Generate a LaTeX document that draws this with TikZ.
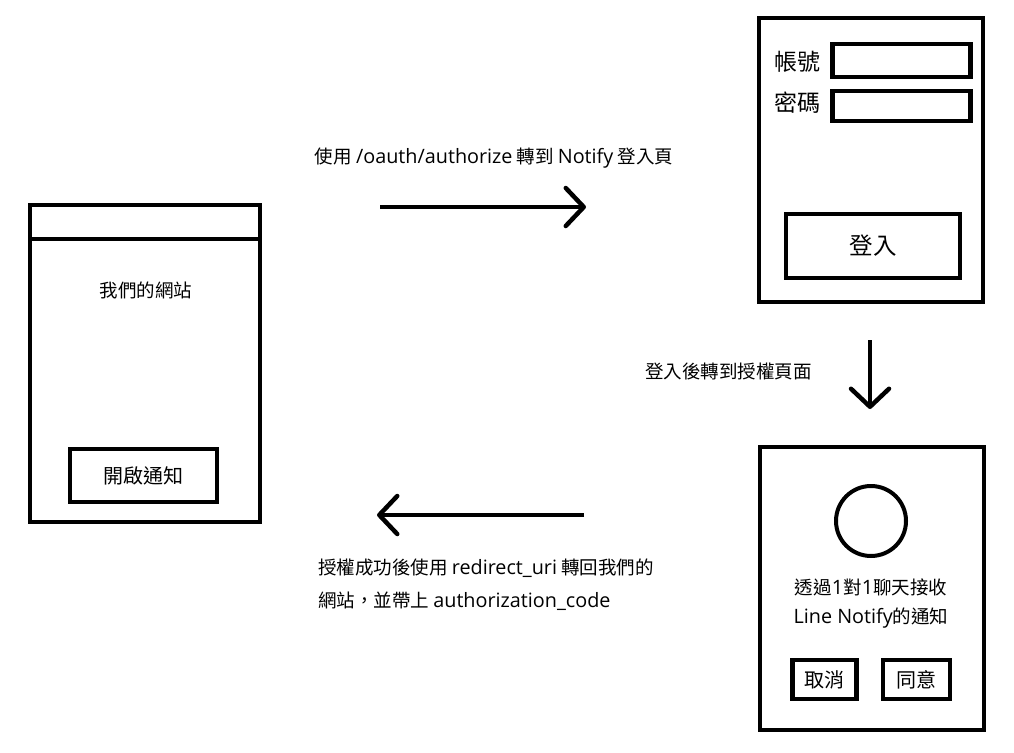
\documentclass[tikz,border=0pt]{standalone}
\usepackage{fontspec}
\setmainfont{Noto Sans CJK TC}[Script=CJK,Language=Chinese Traditional]
\newfontfamily\lat{Open Sans}[Scale=1.07]
\usetikzlibrary{arrows.meta}

\begin{document}
\begin{tikzpicture}[x=1pt,y=-1pt,
    frame/.style={draw,line width=4.5pt},
    knopf/.style={frame,inner sep=0pt,font=\fontsize{20}{22}\selectfont},
    lbl/.style={inner sep=0pt,font=\fontsize{18.5}{20}\selectfont},
    pfeil/.style={line width=4.5pt,-{Straight Barb[length=18pt,width=38pt,round]}}]
\useasboundingbox (0,0) rectangle (1014,752);
    % unsere Webseite:
    \draw[frame] (30,205) rectangle (260,522); % Rahmen
    \draw[frame] (30,239) -- (260,239); % Kopfzeile
    \node[lbl] (seite) at (146,290) {我們的網站};
    \node[knopf, minimum width=147pt, minimum height=53pt] (oeffnen) at (143.5,475.5) {開啟通知};
    % Login-Seite:
    \draw[frame] (759,18) rectangle (983,302);
    \node[lbl, font=\fontsize{23}{24}\selectfont] (konto) at (797,62) {帳號};
    \node[lbl, font=\fontsize{23}{24}\selectfont] (passwort) at (797,103) {密碼};
    \node[frame, minimum width=138pt, minimum height=33pt] (feldkonto) at (901.5,60.5) {};
    \node[frame, minimum width=138pt, minimum height=30pt] (feldpass) at (901.5,106) {};
    \node[knopf, minimum width=174pt, minimum height=64pt, font=\fontsize{23.5}{24}\selectfont] (login) at (873,246) {登入};
    % Autorisierungsseite:
    \draw[frame] (760,447) rectangle (984,730);
    \draw[line width=4pt] (871,521) circle (35); % Icon
    \node[lbl] (zeileeins) at (871,587) {透過{\lat 1}對{\lat 1}聊天接收};
    \node[lbl] (zeilezwei) at (871,618) {{\lat Line Notify}的通知};
    \node[knopf, minimum width=64pt, minimum height=39pt] (abbrechen) at (824.5,679.5) {取消};
    \node[knopf, minimum width=67pt, minimum height=39pt] (zustimmen) at (916.5,679.5) {同意};
    % Pfeile:
    \coordinate (hinstart) at (380,207);
    \coordinate (hinende) at (586,207);
    \draw[pfeil] (hinstart) -- (hinende);
    \node[lbl] (hintext) at (494,158) {使用 {\lat /oauth/authorize} 轉到 {\lat Notify} 登入頁};
    \coordinate (runterstart) at (870,340);
    \coordinate (runterende) at (870,409);
    \draw[pfeil] (runterstart) -- (runterende);
    \node[lbl, anchor=west] (runtertext) at (645,371) {登入後轉到授權頁面};
    \coordinate (zurueckstart) at (584,515);
    \coordinate (zurueckende) at (377,515);
    \draw[pfeil] (zurueckstart) -- (zurueckende);
    \node[lbl, anchor=west] (zuruecktexteins) at (318,568) {授權成功後使用 {\lat redirect\_uri} 轉回我們的};
    \node[lbl, anchor=west] (zuruecktextzwei) at (318,601) {網站，並帶上 {\lat authorization\_code}};
\end{tikzpicture}
\end{document}
